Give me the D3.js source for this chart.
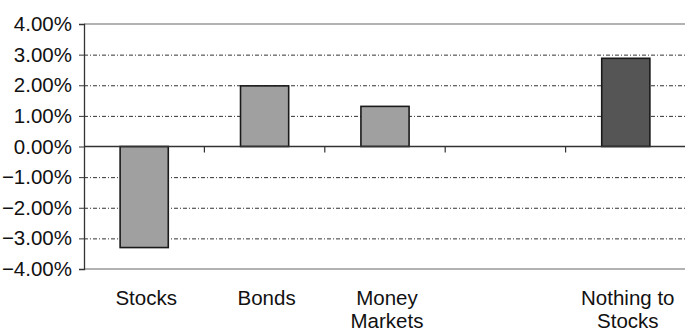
<!DOCTYPE html>
<html>
<head>
<meta charset="utf-8">
<script src="https://cdn.jsdelivr.net/npm/d3@7"></script>
<style>
  html, body { margin: 0; padding: 0; background: #fff; }
  svg { display: block; }
  text { font-family: "Liberation Sans", Arial, sans-serif; fill: #111; }
</style>
</head>
<body>
<svg id="chart" width="685" height="333"></svg>
<script>
const categories = ["Stocks", "Bonds", "Money Markets", "", "Nothing to Stocks"];
const labelLines = [["Stocks"], ["Bonds"], ["Money", "Markets"], [], ["Nothing to", "Stocks"]];
const values = [-3.30, 1.98, 1.31, null, 2.88];
const barColors = ["#a0a0a0", "#a0a0a0", "#a0a0a0", "#a0a0a0", "#555555"];
const yTicks = [-4, -3, -2, -1, 0, 1, 2, 3, 4];

const svg = d3.select("#chart");
const mLeft = 84, mRight = 686, mTop = 24, mBottom = 269;

const x = d3.scaleBand().domain(categories.map((c, i) => i)).range([mLeft, mRight])
  .paddingInner(0.6).paddingOuter(0.3);
const y = d3.scaleLinear().domain([-4, 4]).range([mBottom, mTop]);

// gridlines
svg.append("g").selectAll("line").data(yTicks.filter(t => t !== 0 && Math.abs(t) !== 4))
  .join("line")
  .attr("x1", mLeft).attr("x2", 685)
  .attr("y1", d => y(d) + 0.5).attr("y2", d => y(d) + 0.5)
  .attr("stroke", "#333").attr("stroke-width", 1)
  .attr("stroke-dasharray", "4,2,1,2");

// top & bottom frame lines
svg.append("g").selectAll("line").data([4, -4]).join("line")
  .attr("x1", mLeft).attr("x2", 685)
  .attr("y1", d => y(d)).attr("y2", d => y(d))
  .attr("stroke", "#999").attr("stroke-width", 1.5);

// bars
const data = values.map((v, i) => ({ i, v })).filter(d => d.v !== null);
svg.append("g").selectAll("rect").data(data).join("rect")
  .attr("x", d => x(d.i))
  .attr("width", x.bandwidth())
  .attr("y", d => y(Math.max(0, d.v)))
  .attr("height", d => Math.abs(y(d.v) - y(0)))
  .attr("fill", d => barColors[d.i])
  .attr("stroke", "#1a1a1a").attr("stroke-width", 1.6);

// zero axis line with category ticks
svg.append("line")
  .attr("x1", mLeft).attr("x2", 685)
  .attr("y1", y(0)).attr("y2", y(0))
  .attr("stroke", "#333").attr("stroke-width", 1.3);
const boundaries = categories.slice(1).map((c, i) => x(i + 1) - x.step() * x.paddingInner() / 2);
svg.append("g").selectAll("line").data(boundaries).join("line")
  .attr("x1", d => d).attr("x2", d => d)
  .attr("y1", y(0)).attr("y2", y(0) + 6)
  .attr("stroke", "#333").attr("stroke-width", 1.2);

// y axis
const yAxis = d3.axisLeft(y).tickValues(yTicks)
  .tickFormat(d => d3.format(".2f")(d) + "%")
  .tickSize(5).tickPadding(7);
const ga = svg.append("g").attr("transform", `translate(${mLeft},0)`).call(yAxis);
ga.select(".domain").attr("stroke", "#333").attr("stroke-width", 1.3);
ga.selectAll(".tick line").attr("stroke", "#333");
ga.selectAll(".tick text")
  .style("font-family", '"Liberation Sans", Arial, sans-serif')
  .style("font-size", "20.5px").attr("fill", "#111");

// x labels
const xl = svg.append("g");
labelLines.forEach((lines, i) => {
  lines.forEach((ln, j) => {
    xl.append("text")
      .attr("x", x(i) + x.bandwidth() / 2 + 2)
      .attr("y", 305 + j * 23)
      .attr("text-anchor", "middle")
      .style("font-size", "20.5px")
      .text(ln);
  });
});
</script>
</body>
</html>
